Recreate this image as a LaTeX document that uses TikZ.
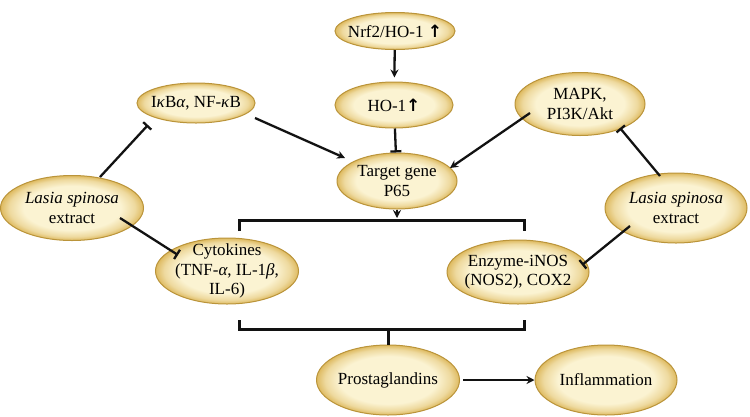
\documentclass[tikz,border=0pt]{standalone}
\usepackage{fontspec}
\setmainfont{Liberation Serif}
\newfontfamily\arrowfont{DejaVu Sans}
\usepackage{tikz}
\usetikzlibrary{shapes.geometric, arrows.meta, positioning, calc}
\definecolor{creamcolor}{RGB}{251,243,210}
\definecolor{goldcolor}{RGB}{222,186,96}
\definecolor{rimcolor}{RGB}{186,148,58}
\definecolor{linecolor}{RGB}{18,18,18}
\colorlet{midcolor}{goldcolor!45!creamcolor}
\pgfdeclareradialshading{eggshade}{\pgfpointorigin}{color(0bp)=(creamcolor); color(17bp)=(creamcolor); color(22bp)=(midcolor); color(25bp)=(goldcolor); color(50bp)=(goldcolor)}

\begin{document}
\begin{tikzpicture}[
    x=1pt, y=-1pt,
    pathnode/.style={ellipse, draw=rimcolor, line width=1pt, shading=eggshade, inner xsep=-12pt, inner ysep=-4pt, align=center, font=\fontsize{17}{19.5}\selectfont},
    arrow/.style={-{Stealth[length=8pt, width=8pt]}, line width=2.3pt, linecolor},
    inhibit/.style={-{Bar[width=11pt]}, line width=2.3pt, linecolor},
    bracket/.style={line width=3pt, linecolor}
]
    \useasboundingbox (0,0) rectangle (750,416);

    % Nodes
    \node[pathnode, minimum width=120pt, minimum height=37pt] (nrf) at (395,31) {Nrf2/HO-1 {\arrowfont\bfseries ↑}};
    \node[pathnode, minimum width=118pt, minimum height=46pt] (ho1) at (394,105) {HO-1{\arrowfont\bfseries ↑}};
    \node[pathnode, minimum width=120pt, minimum height=56pt] (target) at (397,181) {Target gene\\P65};
    \node[pathnode, minimum width=118pt, minimum height=40pt] (ikb) at (196,103) {I\textit{κ}B\textit{α}, NF-\textit{κ}B};
    \node[pathnode, minimum width=130pt, minimum height=63pt] (mapk) at (580,104) {MAPK,\\PI3K/Akt};
    \node[pathnode, minimum width=143pt, minimum height=65pt] (lasiaL) at (72,208) {\textit{Lasia spinosa}\\extract};
    \node[pathnode, minimum width=142pt, minimum height=70pt] (lasiaR) at (676,208) {\textit{Lasia spinosa}\\extract};
    \node[pathnode, minimum width=143pt, minimum height=66pt, inner ysep=-10pt] (cyto) at (227,271) {Cytokines\\(TNF-\textit{α}, IL-1\textit{β},\\IL-6)};
    \node[pathnode, minimum width=142pt, minimum height=64pt] (enz) at (518,272) {Enzyme-iNOS\\(NOS2), COX2};
    \node[pathnode, minimum width=143pt, minimum height=70pt] (prost) at (388,380) {Prostaglandins};
    \node[pathnode, minimum width=142pt, minimum height=70pt] (infl) at (606,380) {Inflammation};

    % Bracket ends
    \coordinate (upjoin) at (397,218);
    \coordinate (upleft) at (239,231);
    \coordinate (upright) at (524,231);
    \coordinate (lowleft) at (239,320);
    \coordinate (lowright) at (524,320);

    % Connectors
    \draw[arrow, shorten >=4pt] (nrf) -- (ho1);
    \draw[inhibit] (ho1) -- (target);
    \draw[arrow] ([shift={(59,15)}]ikb.center) -- ([shift={(-52,-23)}]target.center);
    \draw[arrow] ([shift={(-50,9)}]mapk.center) -- ([shift={(53,-13)}]target.center);
    \draw[inhibit] ([shift={(28,-31)}]lasiaL.center) -- ([shift={(-48,22)}]ikb.center);
    \draw[inhibit] ([shift={(48,10)}]lasiaL.center) -- ([shift={(-49,-16)}]cyto.center);
    \draw[inhibit] ([shift={(-16,-32)}]lasiaR.center) -- ([shift={(40,24)}]mapk.center);
    \draw[inhibit] ([shift={(-46,18)}]lasiaR.center) -- ([shift={(64,-7)}]enz.center);
    \draw[arrow] (target.south) -- (upjoin);
    \draw[bracket] (upleft) -- ++(0,-11) -| (upright);
    \draw[bracket] (lowleft) -- ++(0,9) -| (lowright);
    \draw[bracket] (prost.north) -- ++(0,-17);
    \draw[arrow, shorten <=3pt] (prost) -- (infl);
\end{tikzpicture}
\end{document}
